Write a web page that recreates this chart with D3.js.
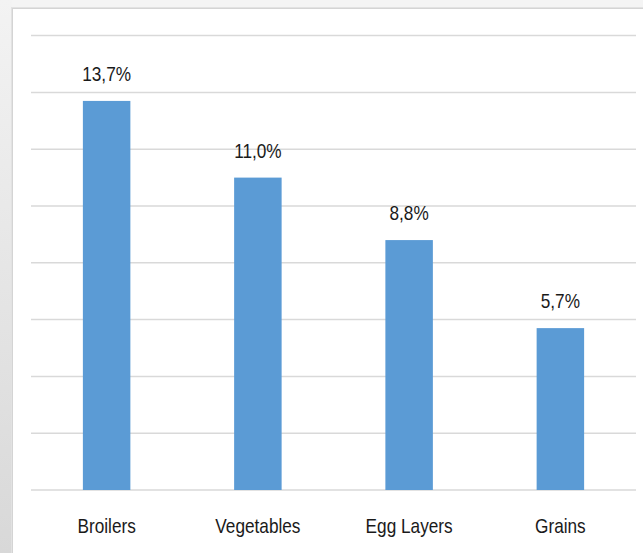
<!DOCTYPE html>
<html>
<head>
<meta charset="utf-8">
<script src="https://cdn.jsdelivr.net/npm/d3@7/dist/d3.min.js"></script>
<style>
  html, body { margin: 0; padding: 0; background: #f3f3f3; }
  svg { display: block; }
</style>
</head>
<body>
<svg id="chart" width="643" height="553"></svg>
<script>
// Share of growth by farm type
const categories = ["Broilers", "Vegetables", "Egg Layers", "Grains"];
const values = [13.7, 11.0, 8.8, 5.7];
const gridTicks = [0, 2, 4, 6, 8, 10, 12, 14, 16];

const W = 643, H = 553;
const svg = d3.select("#chart");

// page backdrop with a soft shaded left edge
const defs = svg.append("defs");
const grad = defs.append("linearGradient").attr("id", "edge").attr("x1", 0).attr("y1", 0).attr("x2", 0).attr("y2", 1);
grad.append("stop").attr("offset", "0%").attr("stop-color", "#f3f3f3");
grad.append("stop").attr("offset", "100%").attr("stop-color", "#d8d8d8");
svg.append("rect").attr("width", W).attr("height", H).attr("fill", "#f4f4f4");
svg.append("rect").attr("x", 0).attr("y", 0).attr("width", 12).attr("height", H).attr("fill", "url(#edge)");

// white chart panel
svg.append("rect").attr("x", 11).attr("y", 7).attr("width", W).attr("height", H)
  .attr("fill", "#e2e2e2");
svg.append("rect").attr("x", 12.5).attr("y", 8.5).attr("width", W).attr("height", H)
  .attr("fill", "#ffffff").attr("stroke", "#d4d4d4").attr("stroke-width", 1);

const plot = { left: 31, right: 636, top: 35.6, bottom: 490 };

const x = d3.scaleBand()
  .domain(categories)
  .range([plot.left, plot.right])
  .paddingInner(0.686)
  .paddingOuter(0.343);

const y = d3.scaleLinear()
  .domain([0, 16])
  .range([plot.bottom, plot.top]);

// horizontal gridlines
svg.append("g")
  .selectAll("line")
  .data(gridTicks)
  .join("line")
  .attr("x1", plot.left).attr("x2", plot.right)
  .attr("y1", d => y(d)).attr("y2", d => y(d))
  .attr("stroke", "#d9d9d9")
  .attr("stroke-width", 1.5);

// bars
svg.append("g")
  .selectAll("rect")
  .data(values)
  .join("rect")
  .attr("x", (d, i) => x(categories[i]))
  .attr("width", x.bandwidth())
  .attr("y", d => y(d))
  .attr("height", d => y(0) - y(d))
  .attr("fill", "#5b9bd5");

// narrow sans: regular Liberation Sans squeezed horizontally
const font = "'Liberation Sans', Arial, sans-serif";
const squeeze = 0.82;
const fmt = v => v.toFixed(1).replace(".", ",") + "%";

// value labels
svg.append("g")
  .selectAll("text")
  .data(values)
  .join("text")
  .attr("transform", (d, i) =>
    `translate(${x(categories[i]) + x.bandwidth() / 2},${y(d) - 20}) scale(${squeeze},1)`)
  .attr("text-anchor", "middle")
  .attr("font-family", font)
  .attr("font-size", 21)
  .attr("fill", "#1a1a1a")
  .text(fmt);

// category axis labels
const xAxis = d3.axisBottom(x).tickSize(0).tickPadding(0);
const gx = svg.append("g")
  .attr("transform", `translate(0,${plot.bottom})`)
  .call(xAxis);
gx.select(".domain").remove();
gx.selectAll("text")
  .attr("dy", 0)
  .attr("y", 0)
  .attr("transform", `translate(0,43) scale(${squeeze},1)`)
  .attr("font-family", font)
  .attr("font-size", 21)
  .attr("fill", "#1a1a1a");
</script>
</body>
</html>
